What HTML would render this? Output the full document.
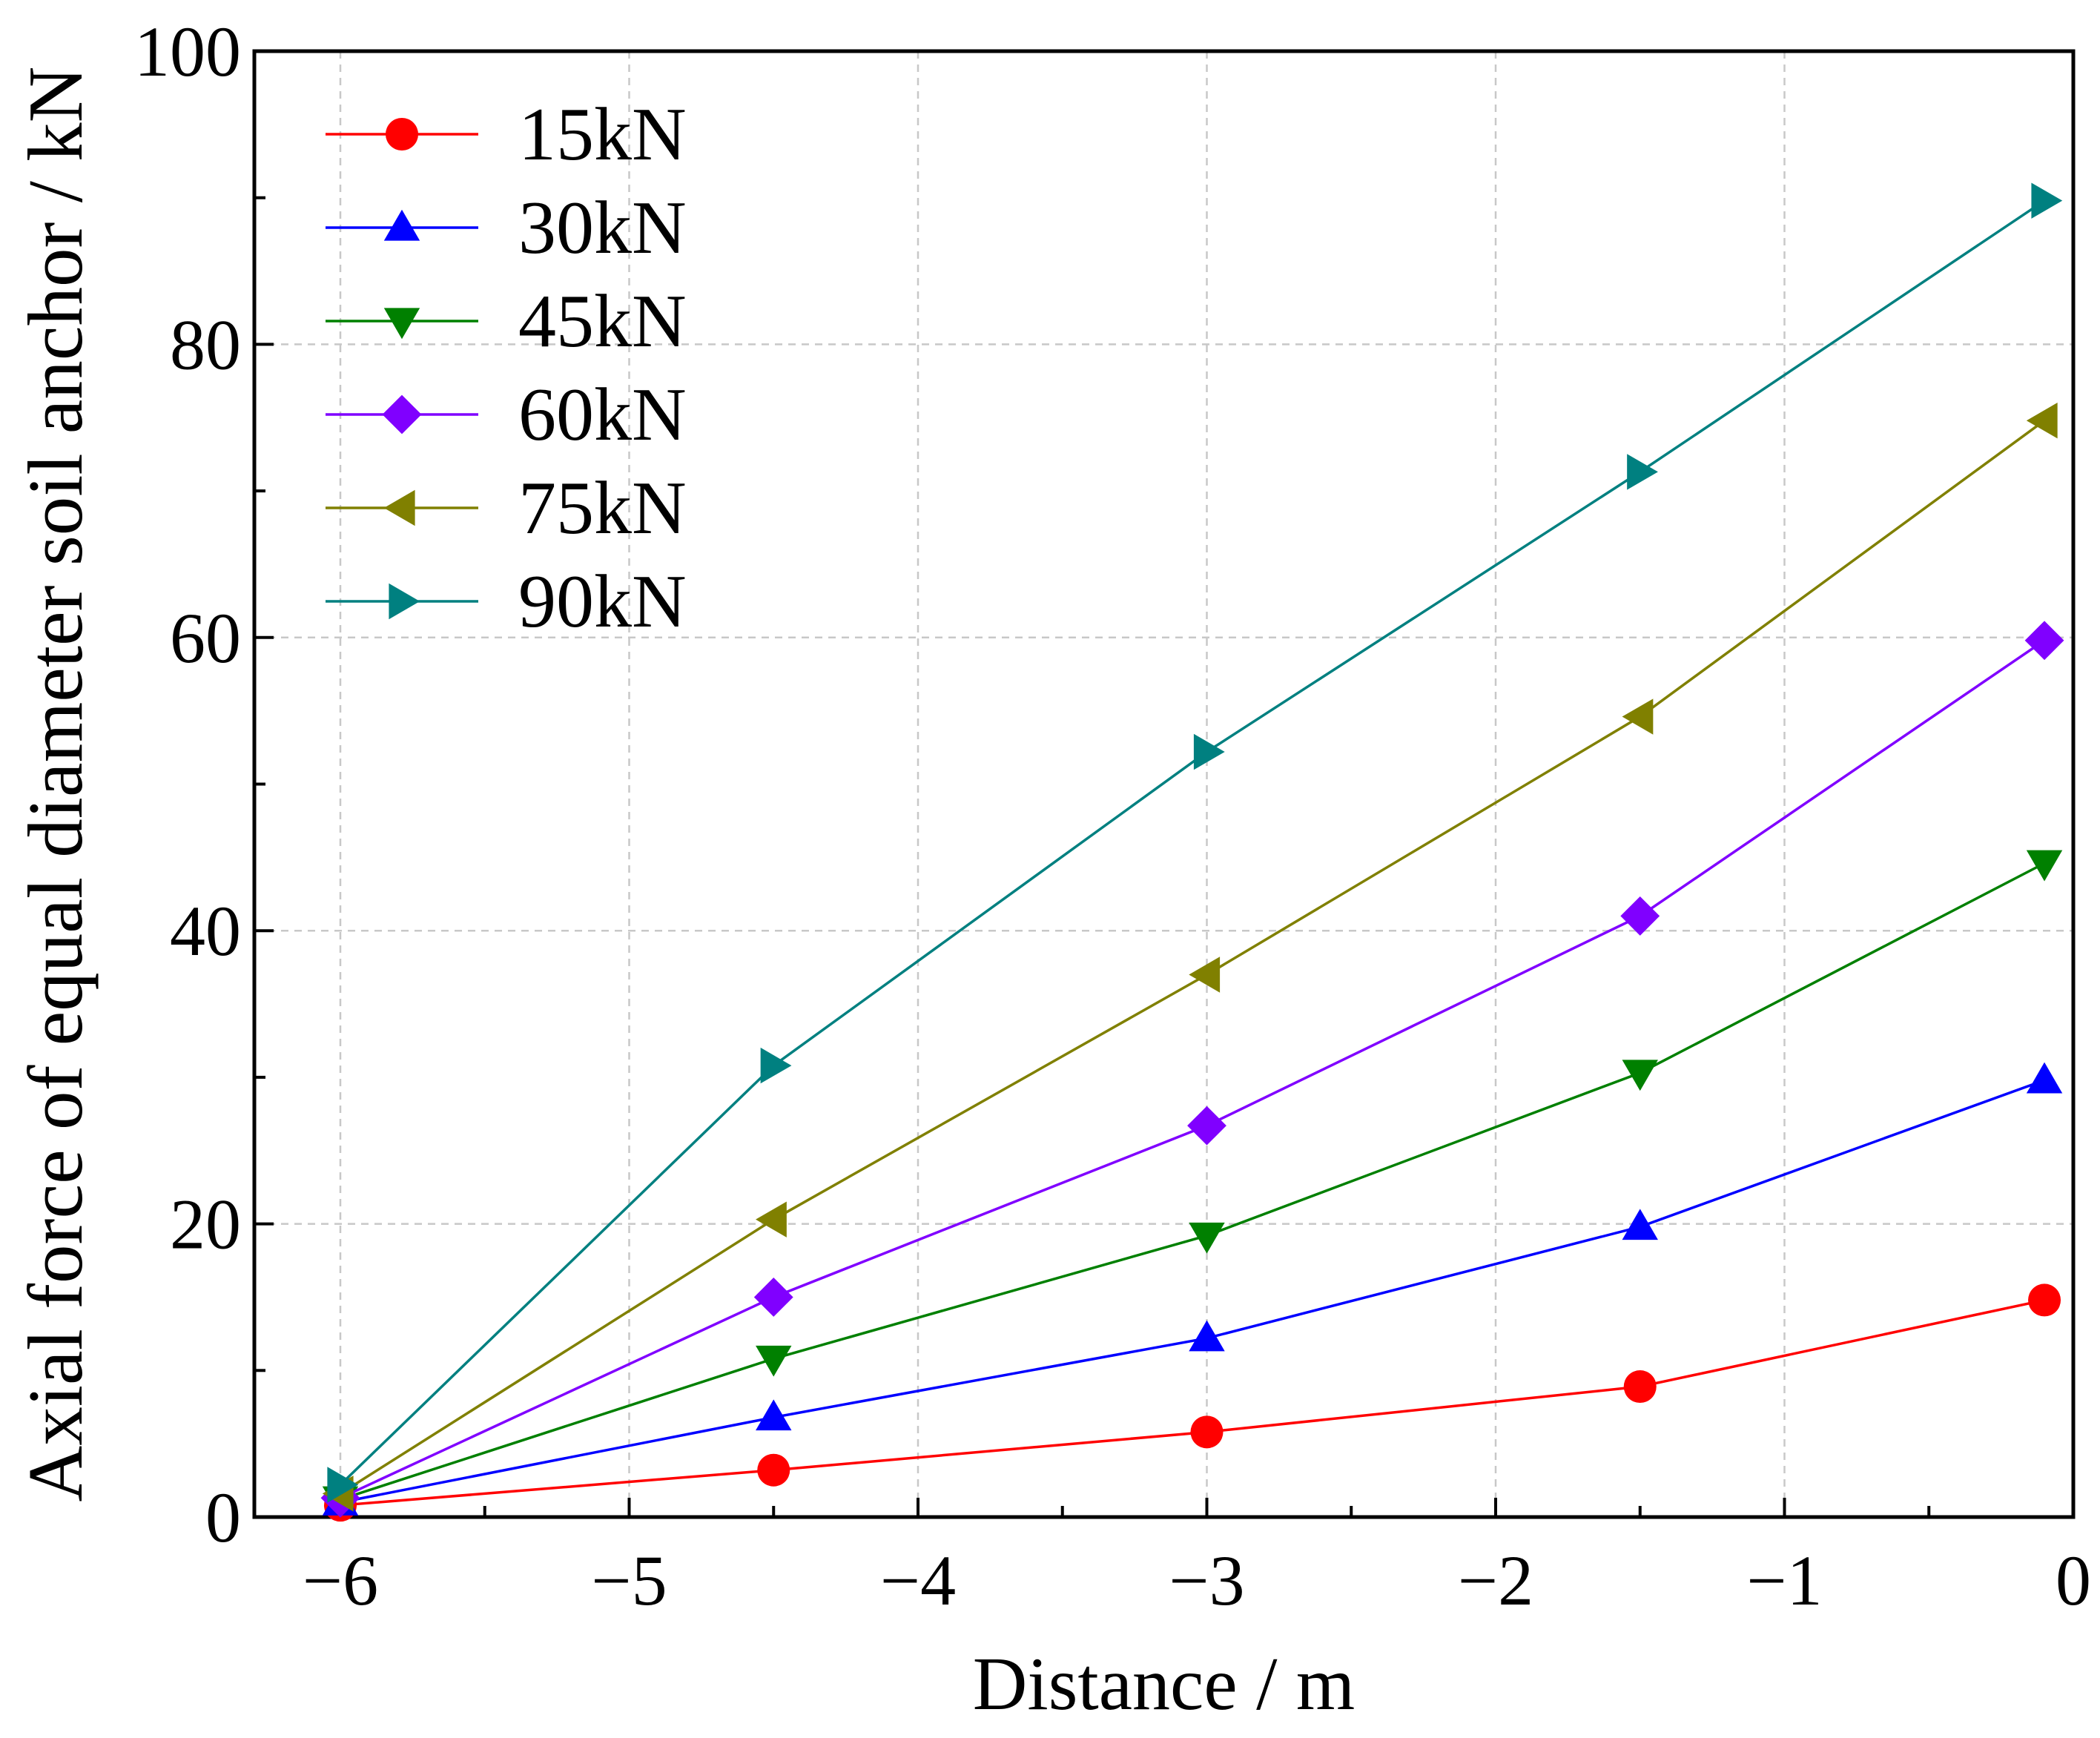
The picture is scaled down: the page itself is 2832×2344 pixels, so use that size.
<!DOCTYPE html>
<html><head><meta charset="utf-8"><style>
html,body{margin:0;padding:0;background:#fff}
svg{display:block}
text{font-family:"Liberation Serif",serif;fill:#000}
</style></head><body>
<svg id="chart" width="2832" height="2344" viewBox="0 0 2832 2344" xmlns="http://www.w3.org/2000/svg"></svg>
<script>
const xCategories = [-6, -4.5, -3, -1.5, -0.1];
const seriesNames = ["15kN","30kN","45kN","60kN","75kN","90kN"];
const s15 = [0.8, 3.2, 5.8, 8.9, 14.8];
const s30 = [1.0, 6.8, 12.2, 19.8, 29.8];
const s45 = [1.2, 10.8, 19.2, 30.3, 44.6];
const s60 = [1.3, 15.0, 26.7, 41.0, 59.8];
const s75 = [1.6, 20.3, 37.0, 54.6, 74.8];
const s90 = [2.2, 30.8, 52.2, 71.3, 89.8];
const xTicks = [-6,-5,-4,-3,-2,-1,0];
const xTickLabels = ["\u22126","\u22125","\u22124","\u22123","\u22122","\u22121","0"];
const yTicks = [0,20,40,60,80,100];
const yTickLabels = ["0","20","40","60","80","100"];

const svg = document.getElementById('chart');
const NS = 'http://www.w3.org/2000/svg';
const L=343, R=2796, T=69, B=2046, X0=459;
const xs = v => X0 + (v + 6) * (R - X0) / 6;
const ys = v => B - v * (B - T) / 100;
function mk(tag, attrs, parent){const e=document.createElementNS(NS,tag);for(const k in attrs)e.setAttribute(k,attrs[k]);(parent||svg).appendChild(e);return e;}

xTicks.forEach(t=>{ if(t>-6.01 && t<0){const g=mk('line',{x1:xs(t),x2:xs(t),y1:T,y2:B,stroke:'#c8c8c8','stroke-width':2.5,'stroke-dasharray':'10,8'});

}});
yTicks.forEach(t=>{ if(t>0 && t<100){const g=mk('line',{x1:L,x2:R,y1:ys(t),y2:ys(t),stroke:'#c8c8c8','stroke-width':2.5,'stroke-dasharray':'10,8'});

}});

for(let t=-6;t<=0.01;t+=0.5){const maj=Math.abs(t-Math.round(t))<0.01;const len=maj?26:15;
const tk=mk('line',{x1:xs(t),x2:xs(t),y1:B,y2:B-len,stroke:'#000','stroke-width':4});

}
for(let t=0;t<=100;t+=10){const maj=t%20===0;const len=maj?26:15;
const tk=mk('line',{x1:L,x2:L+len,y1:ys(t),y2:ys(t),stroke:'#000','stroke-width':4});

}

const fr=mk('rect',{x:L,y:T,width:R-L,height:B-T,fill:'none',stroke:'#000','stroke-width':5});



xTicks.forEach((t,i)=>{const tx=mk('text',{x:xs(t),y:B+118,'font-size':96,'text-anchor':'middle'});tx.textContent=xTickLabels[i];

});
yTicks.forEach((t,i)=>{const tx=mk('text',{x:L-18,y:ys(t)+33,'font-size':96,'text-anchor':'end'});tx.textContent=yTickLabels[i];

});

const xt=mk('text',{x:(L+R)/2,y:2305,'font-size':102,'text-anchor':'middle'});xt.textContent='Distance / m';


const yt=mk('text',{x:0,y:0,'font-size':105,'text-anchor':'middle',transform:`translate(110,${(T+B)/2}) rotate(-90)`});yt.textContent='Axial force of equal diameter soil anchor / kN';



function marker(type,cx,cy,color,parent){const r=22;let pts;
if(type==='circle')return mk('circle',{cx:cx,cy:cy,r:r,fill:color},parent);
if(type==='up')pts=[[cx,cy-r*1.1],[cx+r*1.1,cy+r*0.8],[cx-r*1.1,cy+r*0.8]];
if(type==='down')pts=[[cx,cy+r*1.1],[cx+r*1.1,cy-r*0.8],[cx-r*1.1,cy-r*0.8]];
if(type==='diamond')pts=[[cx,cy-r*1.2],[cx+r*1.2,cy],[cx,cy+r*1.2],[cx-r*1.2,cy]];
if(type==='left')pts=[[cx-r*1.1,cy],[cx+r*0.8,cy-r*1.1],[cx+r*0.8,cy+r*1.1]];
if(type==='right')pts=[[cx+r*1.1,cy],[cx-r*0.8,cy-r*1.1],[cx-r*0.8,cy+r*1.1]];
return mk('polygon',{points:pts.map(p=>p.join(',')).join(' '),fill:color},parent);}

const allSeries=[s15,s30,s45,s60,s75,s90];
const colors=['#ff0000','#0000ff','#008000','#8000ff','#808000','#008080'];
const shapes=['circle','up','down','diamond','left','right'];
allSeries.forEach((vals,si)=>{
 const g=mk('g',{});
 
 
 const pl=mk('polyline',{points:vals.map((v,i)=>xs(xCategories[i])+','+ys(v)).join(' '),fill:'none',stroke:colors[si],'stroke-width':3.5},g);
 
 
 vals.forEach((v,i)=>{const m=marker(shapes[si],xs(xCategories[i]),ys(v),colors[si],g);
 
 });
});

const lg=mk('g',{});


seriesNames.forEach((n,i)=>{const y=181+i*126;
 const e=mk('g',{},lg);
 
 
 mk('line',{x1:439,x2:645,y1:y,y2:y,stroke:colors[i],'stroke-width':3.5},e);
 marker(shapes[i],542,y,colors[i],e);
 const t=mk('text',{x:699,y:y+34,'font-size':102},e);t.textContent=n;});
</script>
</body></html>
